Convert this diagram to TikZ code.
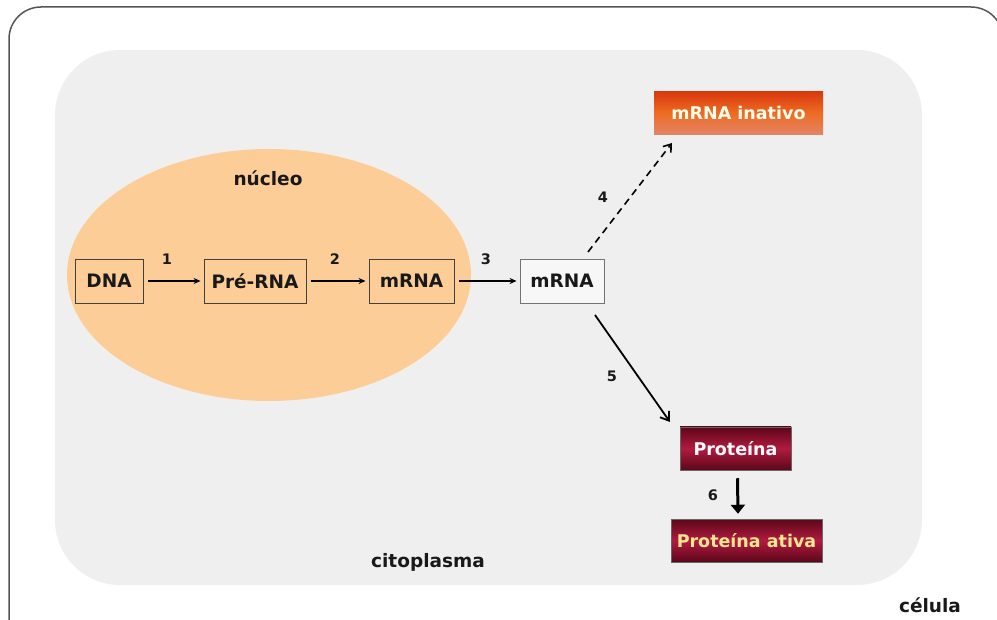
\documentclass[tikz,border=0pt]{standalone}
\usepackage{fontspec}
\setmainfont{DejaVu Sans}
\usetikzlibrary{arrows.meta,shapes.geometric}
\definecolor{frameC}{HTML}{555555}
\definecolor{cytoC}{HTML}{F0EFF0}
\definecolor{nucC}{HTML}{FDCD98}
\definecolor{inaTop}{HTML}{D8380E}
\definecolor{inaMid}{HTML}{EE6C22}
\definecolor{inaBot}{HTML}{E48468}
\definecolor{protDark}{HTML}{5A0719}
\definecolor{protMid}{HTML}{B21A40}
\definecolor{ativaText}{HTML}{F6E890}
\tikzset{
  x=1pt, y=-1pt,
  txt/.style={font=\bfseries\fontsize{18.5}{22}\selectfont, text=black!90},
  num/.style={font=\bfseries\fontsize{14.5}{17}\selectfont, text=black!90},
  stepbox/.style={draw=black!75, line width=0.9pt, inner sep=0pt, minimum height=44pt, txt},
  thinarrow/.style={-{Stealth[length=7pt,width=6pt]}, line width=1.1pt, black},
  colorbox/.style={inner sep=0pt, minimum height=43pt, draw=black!60, line width=0.5pt, font=\bfseries\fontsize{17.5}{20}\selectfont},
  redshade/.style={shade, top color=protDark, bottom color=protDark, middle color=protMid}
}
\begin{document}
\begin{tikzpicture}
\useasboundingbox (0,0) rectangle (997,620);
\begin{scope}
\clip (0,0) rectangle (997,620);
\draw[frameC, line width=1.5pt, rounded corners=32pt] (9,7) rectangle (1003,660);
\end{scope}
% cytoplasm
\fill[cytoC, rounded corners=65pt] (55,50) rectangle (922,585);
% nucleus
\fill[nucC] (269,275) ellipse [x radius=202, y radius=126];
\node[txt] (nuc) at (268,178) {núcleo};
% boxes
\node[stepbox, minimum width=68pt] (dna) at (109,281) {DNA};
\node[stepbox, minimum width=102pt] (pre) at (255,281) {Pré-RNA};
\node[stepbox, minimum width=85pt] (m1) at (411.5,281) {mRNA};
\node[stepbox, minimum width=84pt, fill=white!97!black, draw=black!55] (m2) at (562,281) {mRNA};
\node[colorbox, minimum width=169pt, draw=none, shade, top color=inaTop, bottom color=inaBot, middle color=inaMid, text=white!92!yellow] (ina) at (738.5,113) {mRNA inativo};
\node[colorbox, minimum width=111pt, redshade, text=white] (prot) at (735.5,448.5) {Proteína};
\node[colorbox, minimum width=151pt, redshade, text=ativaText] (ativa) at (746.5,540.5) {Proteína ativa};
% arrows
\draw[thinarrow] ([xshift=5pt]dna.east) -- ([xshift=-3pt]pre.west);
\draw[thinarrow] ([xshift=5pt]pre.east) -- ([xshift=-3pt]m1.west);
\draw[thinarrow] ([xshift=5pt]m1.east) -- ([xshift=-3pt]m2.west);
\node[num] (n1) at (167,259) {1};
\node[num] (n2) at (335,259) {2};
\node[num] (n3) at (486,259) {3};
\coordinate (s4) at (588,252);
\coordinate (e4) at (672,143);
\draw[dashed, dash pattern=on 7pt off 5pt, line width=1.6pt, -{Straight Barb[length=7pt,width=10pt]}] (s4) -- (e4);
\node[num] (n4) at (603,197) {4};
\coordinate (s5) at (595,315);
\coordinate (e5) at (670,422);
\draw[line width=1.8pt, -{Straight Barb[length=8pt,width=11pt]}] (s5) -- (e5);
\node[num] (n5) at (612,376) {5};
\draw[line width=3pt, -{Triangle[length=9pt,width=14pt]}] ([xshift=2pt,yshift=-8pt]prot.south) -- ([xshift=-8.5pt,yshift=5pt]ativa.north);
\node[num] (n6) at (713,495) {6};
% labels
\node[txt] (cito) at (428,562) {citoplasma};
\node[txt] (cel) at (930,605) {célula};
\end{tikzpicture}
\end{document}
